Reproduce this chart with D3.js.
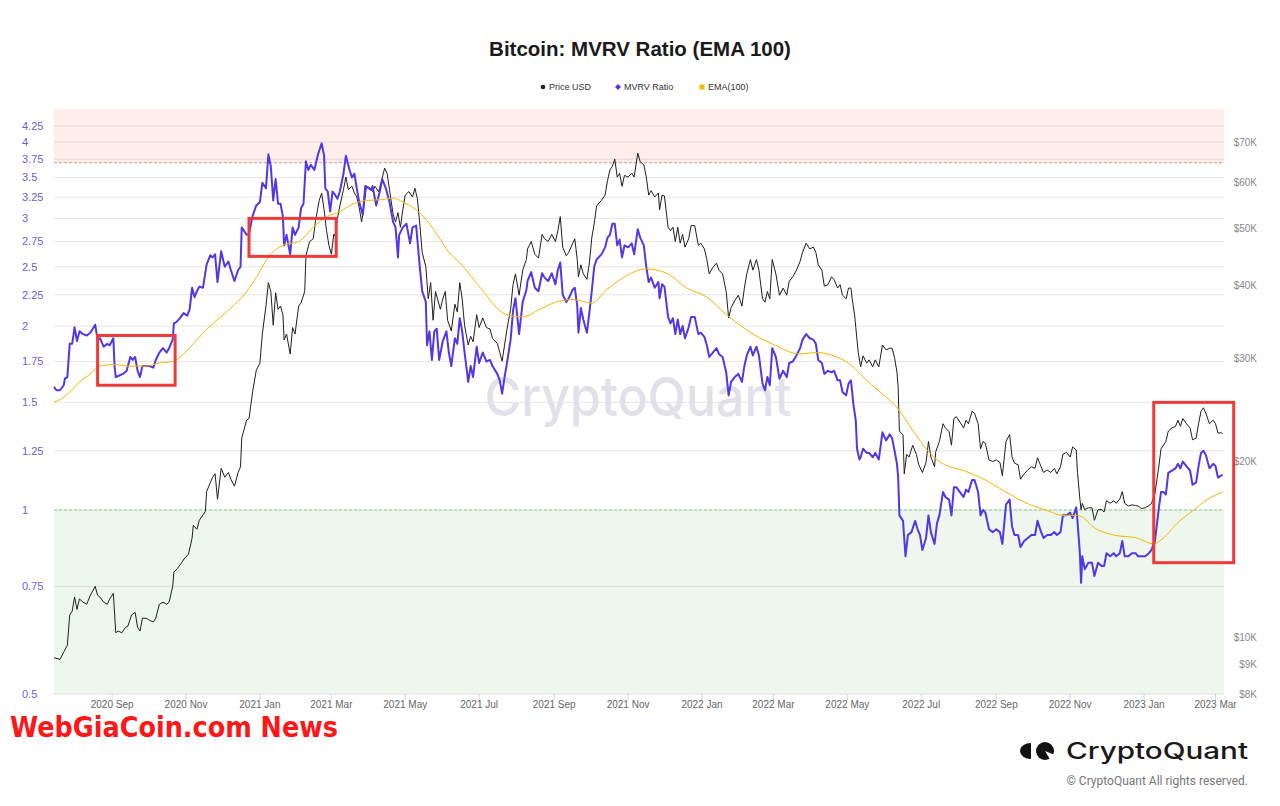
<!DOCTYPE html>
<html>
<head>
<meta charset="utf-8">
<script src="https://cdn.jsdelivr.net/npm/d3@7"></script>
<style>
  body { margin: 0; background: #fff; }
  svg { display: block; }
</style>
</head>
<body>
<div id="chart"></div>
<script>
// ---- data ----
var priceUSD = [
  ["2020-07-15",9225],["2020-07-20",9170],["2020-07-23",9430],["2020-07-26",9690],["2020-07-28",10920],["2020-07-30",11080],
  ["2020-08-01",11720],["2020-08-03",11160],["2020-08-05",11630],["2020-08-08",11480],["2020-08-11",11390],["2020-08-14",11800],
  ["2020-08-18",12220],["2020-08-20",11800],["2020-08-22",11710],["2020-08-25",11480],["2020-08-28",11390],["2020-08-30",11630],
  ["2020-09-02",11890],["2020-09-04",10180],["2020-09-06",10250],["2020-09-09",10180],["2020-09-12",10400],["2020-09-14",10450],
  ["2020-09-17",10920],["2020-09-20",11030],["2020-09-22",10400],["2020-09-24",10250],["2020-09-26",10780],["2020-09-29",10780],
  ["2020-10-02",10690],["2020-10-05",10620],["2020-10-07",10780],["2020-10-10",11390],["2020-10-13",11480],["2020-10-16",11390],
  ["2020-10-18",11480],["2020-10-21",12220],["2020-10-22",12930],["2020-10-25",13120],["2020-10-28",13380],["2020-10-31",13670],
  ["2020-11-03",13860],["2020-11-06",14770],["2020-11-07",15540],["2020-11-10",15300],["2020-11-12",15850],["2020-11-15",16190],
  ["2020-11-17",16420],["2020-11-18",17740],["2020-11-21",18370],["2020-11-23",18780],["2020-11-25",19030],["2020-11-27",17220],
  ["2020-11-30",19450],["2020-12-03",18780],["2020-12-06",19130],["2020-12-08",18630],["2020-12-11",18130],["2020-12-14",19130],
  ["2020-12-16",19570],["2020-12-17",21900],["2020-12-21",23510],["2020-12-23",23660],["2020-12-26",26300],["2020-12-29",28600],
  ["2021-01-01",29420],["2021-01-03",32990],["2021-01-06",36840],["2021-01-08",40390],["2021-01-10",39000],["2021-01-12",34160],
  ["2021-01-14",38800],["2021-01-16",36370],["2021-01-18",36840],["2021-01-20",35590],["2021-01-21",32230],["2021-01-23",32990],
  ["2021-01-26",30500],["2021-01-28",33850],["2021-01-30",32990],["2021-02-02",36840],["2021-02-04",37300],["2021-02-07",39000],
  ["2021-02-08",44890],["2021-02-11",47480],["2021-02-14",48000],["2021-02-16",51670],["2021-02-19",55840],["2021-02-21",57440],
  ["2021-02-23",53820],["2021-02-25",49560],["2021-02-27",46760],["2021-03-01",45160],["2021-03-03",48880],["2021-03-04",48500],
  ["2021-03-06",51950],["2021-03-08",54620],["2021-03-11",58260],["2021-03-13",61200],["2021-03-15",58260],["2021-03-18",59000],
  ["2021-03-20",57500],["2021-03-22",56570],["2021-03-24",54240],["2021-03-26",51300],["2021-03-28",54620],["2021-03-30",59000],
  ["2021-04-02",58600],["2021-04-04",57790],["2021-04-06",59000],["2021-04-09",57790],["2021-04-11",59840],["2021-04-14",63400],
  ["2021-04-16",62100],["2021-04-18",58260],["2021-04-21",52800],["2021-04-23",51300],["2021-04-25",53200],["2021-04-27",50230],
  ["2021-04-29",53820],["2021-05-01",57000],["2021-05-04",57790],["2021-05-07",56570],["2021-05-09",58560],["2021-05-11",56230],
  ["2021-05-13",50900],["2021-05-15",45500],["2021-05-18",43000],["2021-05-20",37900],["2021-05-22",40390],["2021-05-24",34830],
  ["2021-05-26",39000],["2021-05-30",36370],["2021-06-01",37900],["2021-06-03",39000],["2021-06-05",34830],["2021-06-08",33400],
  ["2021-06-11",37100],["2021-06-13",36000],["2021-06-15",40390],["2021-06-17",37900],["2021-06-19",34100],["2021-06-22",31600],
  ["2021-06-24",32700],["2021-06-26",31990],["2021-06-29",35590],["2021-07-01",33850],["2021-07-04",35150],["2021-07-07",33850],
  ["2021-07-10",33640],["2021-07-12",32460],["2021-07-16",31800],["2021-07-18",30710],["2021-07-20",29650],["2021-07-22",31600],
  ["2021-07-24",33640],["2021-07-27",36370],["2021-07-29",40080],["2021-07-31",41810],["2021-08-03",38440],["2021-08-06",42420],
  ["2021-08-09",44240],["2021-08-10",46130],["2021-08-13",47480],["2021-08-16",45160],["2021-08-19",44500],["2021-08-22",48830],
  ["2021-08-24",48000],["2021-08-27",47480],["2021-08-30",48830],["2021-09-02",47480],["2021-09-04",49560],["2021-09-06",52380],
  ["2021-09-08",46450],["2021-09-11",44890],["2021-09-13",45500],["2021-09-16",47000],["2021-09-18",48000],["2021-09-20",44240],
  ["2021-09-21",41330],["2021-09-23",43330],["2021-09-25",41810],["2021-09-28",40910],["2021-09-30",43600],["2021-10-02",48150],
  ["2021-10-04",50900],["2021-10-06",54620],["2021-10-10",55840],["2021-10-13",57000],["2021-10-15",60350],["2021-10-17",62950],
  ["2021-10-19",63840],["2021-10-21",65680],["2021-10-23",61200],["2021-10-25",62100],["2021-10-27",59000],["2021-10-29",61600],
  ["2021-11-01",61200],["2021-11-04",62100],["2021-11-06",61200],["2021-11-09",67250],["2021-11-11",65000],["2021-11-14",64200],
  ["2021-11-16",61200],["2021-11-18",57000],["2021-11-20",58000],["2021-11-23",56570],["2021-11-26",57500],["2021-11-27",53820],
  ["2021-11-29",57000],["2021-12-01",56800],["2021-12-04",50230],["2021-12-06",49560],["2021-12-08",50230],["2021-12-10",47480],
  ["2021-12-12",50230],["2021-12-14",47180],["2021-12-16",48830],["2021-12-18",46450],["2021-12-21",48000],["2021-12-23",50550],
  ["2021-12-26",50550],["2021-12-29",46760],["2021-12-31",47180],["2022-01-03",46130],["2022-01-05",44240],["2022-01-07",41810],
  ["2022-01-10",42900],["2022-01-13",43600],["2022-01-15",42420],["2022-01-18",41810],["2022-01-21",39000],["2022-01-23",35150],
  ["2022-01-25",36590],["2022-01-28",37590],["2022-01-31",38440],["2022-02-03",36840],["2022-02-05",39530],["2022-02-07",41810],
  ["2022-02-10",44240],["2022-02-12",42420],["2022-02-15",44240],["2022-02-17",42420],["2022-02-20",37900],["2022-02-22",37400],
  ["2022-02-24",39000],["2022-02-26",37900],["2022-02-28",44240],["2022-03-03",41810],["2022-03-06",38440],["2022-03-09",39530],
  ["2022-03-12",38440],["2022-03-14",40600],["2022-03-17",41330],["2022-03-20",42420],["2022-03-23",43920],["2022-03-25",45500],
  ["2022-03-28",47180],["2022-03-31",46130],["2022-04-03",46450],["2022-04-05",45500],["2022-04-07",43330],["2022-04-10",42420],
  ["2022-04-12",39840],["2022-04-15",40080],["2022-04-18",41330],["2022-04-20",40900],["2022-04-23",39530],["2022-04-25",40080],
  ["2022-04-27",38440],["2022-04-30",37900],["2022-05-02",39530],["2022-05-04",39530],["2022-05-05",37900],["2022-05-07",35590],
  ["2022-05-08",33850],["2022-05-10",30700],["2022-05-12",29000],["2022-05-14",30280],["2022-05-17",29420],["2022-05-19",29800],
  ["2022-05-22",29000],["2022-05-24",29800],["2022-05-27",29000],["2022-05-30",31600],["2022-06-02",31000],["2022-06-05",31200],
  ["2022-06-07",31200],["2022-06-09",30060],["2022-06-11",28400],["2022-06-12",26670],["2022-06-13",22500],["2022-06-16",22200],
  ["2022-06-17",19030],["2022-06-19",20550],["2022-06-21",20330],["2022-06-24",21300],["2022-06-27",20550],["2022-06-29",19720],
  ["2022-07-02",19130],["2022-07-05",19900],["2022-07-07",21610],["2022-07-09",20330],["2022-07-12",19570],["2022-07-13",20760],
  ["2022-07-16",21610],["2022-07-19",23180],["2022-07-21",22800],["2022-07-24",22470],["2022-07-26",21300],["2022-07-28",23660],
  ["2022-07-30",23840],["2022-08-02",23330],["2022-08-05",22800],["2022-08-07",23500],["2022-08-09",23180],["2022-08-12",24330],
  ["2022-08-14",24160],["2022-08-17",23180],["2022-08-19",21000],["2022-08-21",21610],["2022-08-23",21450],["2022-08-26",20100],
  ["2022-08-29",19980],["2022-09-01",20100],["2022-09-04",19900],["2022-09-06",18890],["2022-09-09",21610],["2022-09-12",22200],
  ["2022-09-14",20330],["2022-09-16",19850],["2022-09-19",19720],["2022-09-21",18630],["2022-09-24",19030],["2022-09-27",19320],
  ["2022-09-30",19570],["2022-10-03",19450],["2022-10-05",20270],["2022-10-08",19570],["2022-10-10",19130],["2022-10-13",19320],
  ["2022-10-16",19130],["2022-10-19",19450],["2022-10-21",19030],["2022-10-24",19570],["2022-10-26",20560],["2022-10-29",20700],
  ["2022-11-01",20330],["2022-11-03",21160],["2022-11-06",20900],["2022-11-07",19150],["2022-11-09",17240],["2022-11-10",16530],
  ["2022-11-11",16940],["2022-11-13",16530],["2022-11-16",16650],["2022-11-19",16650],["2022-11-21",15850],["2022-11-24",16530],
  ["2022-11-27",16530],["2022-11-29",16380],["2022-12-01",17120],["2022-12-04",16950],["2022-12-07",17120],["2022-12-09",16950],
  ["2022-12-12",17240],["2022-12-14",17740],["2022-12-16",16950],["2022-12-19",16770],["2022-12-22",16840],["2022-12-25",16800],
  ["2022-12-27",16770],["2022-12-30",16600],["2023-01-02",16650],["2023-01-05",16800],["2023-01-07",16920],["2023-01-10",17620],
  ["2023-01-13",19460],["2023-01-15",21000],["2023-01-17",21300],["2023-01-19",21610],["2023-01-21",22520],["2023-01-24",22800],
  ["2023-01-27",22950],["2023-01-29",23500],["2023-01-31",22950],["2023-02-02",23660],["2023-02-05",23180],["2023-02-08",22800],
  ["2023-02-10",21760],["2023-02-13",21900],["2023-02-15",23180],["2023-02-17",24330],["2023-02-19",24680],["2023-02-21",24160],
  ["2023-02-24",23180],["2023-02-27",23500],["2023-03-01",23180],["2023-03-03",22360],["2023-03-06",22360],["2023-03-07",22280]
];

var mvrvRatio = [
  ["2020-07-15",1.59],["2020-07-17",1.57],["2020-07-20",1.57],["2020-07-23",1.60],["2020-07-24",1.64],["2020-07-26",1.65],
  ["2020-07-28",1.87],["2020-07-30",1.87],["2020-08-01",1.99],["2020-08-03",1.89],["2020-08-05",1.96],["2020-08-08",1.94],
  ["2020-08-11",1.93],["2020-08-14",1.95],["2020-08-18",2.01],["2020-08-20",1.90],["2020-08-22",1.91],["2020-08-25",1.85],
  ["2020-08-28",1.87],["2020-08-30",1.86],["2020-09-02",1.91],["2020-09-03",1.72],["2020-09-04",1.65],["2020-09-07",1.66],
  ["2020-09-10",1.67],["2020-09-13",1.69],["2020-09-16",1.78],["2020-09-18",1.76],["2020-09-20",1.78],["2020-09-22",1.69],
  ["2020-09-24",1.65],["2020-09-26",1.72],["2020-09-29",1.72],["2020-10-02",1.72],["2020-10-05",1.71],["2020-10-07",1.76],
  ["2020-10-10",1.81],["2020-10-13",1.84],["2020-10-16",1.81],["2020-10-18",1.84],["2020-10-21",1.90],["2020-10-22",2.02],
  ["2020-10-24",2.03],["2020-10-27",2.06],["2020-10-30",2.10],["2020-11-02",2.08],["2020-11-04",2.13],["2020-11-06",2.31],
  ["2020-11-08",2.23],["2020-11-10",2.28],["2020-11-12",2.32],["2020-11-15",2.31],["2020-11-18",2.52],["2020-11-21",2.61],
  ["2020-11-23",2.59],["2020-11-25",2.62],["2020-11-27",2.36],["2020-11-30",2.65],["2020-12-03",2.50],["2020-12-06",2.55],
  ["2020-12-08",2.47],["2020-12-11",2.37],["2020-12-14",2.47],["2020-12-16",2.50],["2020-12-17",2.90],["2020-12-21",2.82],
  ["2020-12-23",2.83],["2020-12-26",3.03],["2020-12-29",3.15],["2021-01-01",3.19],["2021-01-03",3.43],["2021-01-06",3.36],
  ["2021-01-08",3.82],["2021-01-10",3.65],["2021-01-12",3.21],["2021-01-14",3.48],["2021-01-16",3.17],["2021-01-18",3.17],
  ["2021-01-20",3.02],["2021-01-21",2.71],["2021-01-23",2.82],["2021-01-26",2.62],["2021-01-28",2.90],["2021-01-30",2.82],
  ["2021-02-02",2.90],["2021-02-04",3.12],["2021-02-06",3.17],["2021-02-08",3.72],["2021-02-10",3.60],["2021-02-12",3.67],
  ["2021-02-15",3.60],["2021-02-18",3.82],["2021-02-21",3.98],["2021-02-23",3.80],["2021-02-24",3.36],["2021-02-26",3.32],
  ["2021-02-28",3.08],["2021-03-02",3.32],["2021-03-04",3.28],["2021-03-06",3.23],["2021-03-08",3.32],["2021-03-11",3.55],
  ["2021-03-13",3.80],["2021-03-16",3.60],["2021-03-18",3.50],["2021-03-20",3.55],["2021-03-22",3.36],["2021-03-24",3.19],
  ["2021-03-27",3.04],["2021-03-29",3.39],["2021-04-01",3.36],["2021-04-03",3.34],["2021-04-04",3.39],["2021-04-07",3.15],
  ["2021-04-10",3.32],["2021-04-12",3.48],["2021-04-15",3.36],["2021-04-18",3.19],["2021-04-21",2.96],["2021-04-23",2.90],
  ["2021-04-25",2.59],["2021-04-26",2.82],["2021-04-29",2.90],["2021-05-02",2.94],["2021-05-05",2.73],["2021-05-07",2.90],
  ["2021-05-10",2.92],["2021-05-13",2.50],["2021-05-15",2.28],["2021-05-18",2.19],["2021-05-19",1.86],["2021-05-21",1.96],
  ["2021-05-23",1.76],["2021-05-25",1.96],["2021-05-27",1.98],["2021-05-29",1.76],["2021-06-01",1.89],["2021-06-04",1.96],
  ["2021-06-06",1.81],["2021-06-08",1.72],["2021-06-11",1.91],["2021-06-13",1.87],["2021-06-15",2.06],["2021-06-17",1.96],
  ["2021-06-19",1.81],["2021-06-22",1.62],["2021-06-24",1.72],["2021-06-26",1.65],["2021-06-29",1.85],["2021-07-01",1.74],
  ["2021-07-04",1.81],["2021-07-07",1.75],["2021-07-10",1.76],["2021-07-12",1.72],["2021-07-16",1.67],["2021-07-18",1.63],
  ["2021-07-20",1.55],["2021-07-22",1.65],["2021-07-24",1.74],["2021-07-27",1.90],["2021-07-29",2.12],["2021-07-31",2.22],
  ["2021-08-03",1.94],["2021-08-06",2.19],["2021-08-09",2.29],["2021-08-10",2.37],["2021-08-13",2.45],["2021-08-16",2.31],
  ["2021-08-19",2.28],["2021-08-22",2.44],["2021-08-24",2.40],["2021-08-27",2.37],["2021-08-30",2.44],["2021-09-02",2.34],
  ["2021-09-04",2.47],["2021-09-06",2.54],["2021-09-08",2.25],["2021-09-11",2.19],["2021-09-13",2.22],["2021-09-16",2.29],
  ["2021-09-18",2.31],["2021-09-20",2.16],["2021-09-21",1.95],["2021-09-23",2.14],["2021-09-25",2.05],["2021-09-28",1.95],
  ["2021-09-30",2.10],["2021-10-02",2.28],["2021-10-04",2.50],["2021-10-06",2.57],["2021-10-10",2.62],["2021-10-13",2.69],
  ["2021-10-15",2.79],["2021-10-17",2.82],["2021-10-19",2.94],["2021-10-21",2.94],["2021-10-23",2.71],["2021-10-25",2.77],
  ["2021-10-27",2.59],["2021-10-29",2.71],["2021-11-01",2.69],["2021-11-04",2.73],["2021-11-06",2.62],["2021-11-09",2.88],
  ["2021-11-11",2.79],["2021-11-14",2.71],["2021-11-16",2.50],["2021-11-18",2.36],["2021-11-20",2.40],["2021-11-23",2.31],
  ["2021-11-26",2.36],["2021-11-27",2.22],["2021-11-29",2.34],["2021-12-01",2.32],["2021-12-04",2.07],["2021-12-06",2.02],
  ["2021-12-08",2.06],["2021-12-10",1.94],["2021-12-12",2.05],["2021-12-14",1.94],["2021-12-16",2.00],["2021-12-18",1.91],
  ["2021-12-21",1.99],["2021-12-23",2.07],["2021-12-26",2.07],["2021-12-29",1.94],["2021-12-31",1.95],["2022-01-03",1.92],
  ["2022-01-05",1.86],["2022-01-07",1.78],["2022-01-10",1.81],["2022-01-13",1.84],["2022-01-15",1.80],["2022-01-18",1.78],
  ["2022-01-21",1.68],["2022-01-23",1.54],["2022-01-25",1.62],["2022-01-28",1.65],["2022-01-31",1.67],["2022-02-03",1.62],
  ["2022-02-05",1.72],["2022-02-07",1.79],["2022-02-10",1.85],["2022-02-12",1.79],["2022-02-15",1.85],["2022-02-17",1.79],
  ["2022-02-20",1.61],["2022-02-22",1.57],["2022-02-24",1.65],["2022-02-26",1.60],["2022-02-28",1.84],["2022-03-03",1.78],
  ["2022-03-06",1.64],["2022-03-09",1.69],["2022-03-12",1.65],["2022-03-14",1.74],["2022-03-17",1.75],["2022-03-20",1.79],
  ["2022-03-23",1.84],["2022-03-25",1.90],["2022-03-28",1.94],["2022-03-31",1.91],["2022-04-03",1.90],["2022-04-05",1.87],
  ["2022-04-07",1.76],["2022-04-10",1.74],["2022-04-12",1.67],["2022-04-15",1.69],["2022-04-18",1.68],["2022-04-20",1.69],
  ["2022-04-23",1.63],["2022-04-25",1.63],["2022-04-27",1.56],["2022-04-30",1.54],["2022-05-02",1.61],["2022-05-04",1.63],
  ["2022-05-05",1.56],["2022-05-06",1.49],["2022-05-08",1.40],["2022-05-09",1.26],["2022-05-11",1.21],["2022-05-12",1.22],
  ["2022-05-14",1.26],["2022-05-17",1.24],["2022-05-19",1.24],["2022-05-22",1.22],["2022-05-24",1.24],["2022-05-27",1.21],
  ["2022-05-30",1.34],["2022-06-02",1.30],["2022-06-05",1.33],["2022-06-07",1.31],["2022-06-09",1.25],["2022-06-11",1.19],
  ["2022-06-12",1.13],["2022-06-13",0.98],["2022-06-16",0.96],["2022-06-18",0.84],["2022-06-20",0.91],["2022-06-23",0.92],
  ["2022-06-26",0.96],["2022-06-28",0.93],["2022-06-30",0.91],["2022-07-02",0.86],["2022-07-05",0.90],["2022-07-07",0.98],
  ["2022-07-09",0.92],["2022-07-12",0.88],["2022-07-14",0.95],["2022-07-16",0.98],["2022-07-19",1.07],["2022-07-21",1.05],
  ["2022-07-24",1.04],["2022-07-26",0.98],["2022-07-28",1.09],["2022-07-30",1.09],["2022-08-02",1.07],["2022-08-05",1.05],
  ["2022-08-07",1.08],["2022-08-09",1.07],["2022-08-12",1.12],["2022-08-14",1.12],["2022-08-17",1.07],["2022-08-19",0.98],
  ["2022-08-21",1.00],["2022-08-23",0.99],["2022-08-26",0.93],["2022-08-29",0.92],["2022-09-01",0.93],["2022-09-04",0.92],
  ["2022-09-06",0.88],["2022-09-09",1.02],["2022-09-12",1.04],["2022-09-14",0.94],["2022-09-16",0.91],["2022-09-19",0.91],
  ["2022-09-21",0.87],["2022-09-24",0.89],["2022-09-27",0.90],["2022-09-30",0.91],["2022-10-03",0.91],["2022-10-05",0.96],
  ["2022-10-08",0.92],["2022-10-10",0.90],["2022-10-13",0.91],["2022-10-16",0.91],["2022-10-19",0.92],["2022-10-21",0.91],
  ["2022-10-24",0.92],["2022-10-26",0.98],["2022-10-29",0.98],["2022-11-01",0.99],["2022-11-03",0.97],["2022-11-06",1.01],
  ["2022-11-07",0.96],["2022-11-09",0.85],["2022-11-10",0.76],["2022-11-11",0.84],["2022-11-13",0.80],["2022-11-16",0.82],
  ["2022-11-19",0.82],["2022-11-21",0.78],["2022-11-24",0.82],["2022-11-27",0.81],["2022-11-29",0.81],["2022-12-01",0.85],
  ["2022-12-04",0.84],["2022-12-07",0.85],["2022-12-09",0.84],["2022-12-12",0.85],["2022-12-14",0.89],["2022-12-16",0.84],
  ["2022-12-19",0.84],["2022-12-22",0.85],["2022-12-25",0.85],["2022-12-27",0.84],["2022-12-30",0.84],["2023-01-02",0.84],
  ["2023-01-05",0.85],["2023-01-07",0.86],["2023-01-10",0.89],["2023-01-13",1.00],["2023-01-15",1.07],["2023-01-17",1.07],
  ["2023-01-19",1.06],["2023-01-21",1.15],["2023-01-24",1.16],["2023-01-27",1.17],["2023-01-29",1.19],["2023-01-31",1.17],
  ["2023-02-02",1.20],["2023-02-05",1.18],["2023-02-08",1.16],["2023-02-10",1.10],["2023-02-13",1.11],["2023-02-15",1.18],
  ["2023-02-17",1.24],["2023-02-19",1.25],["2023-02-21",1.23],["2023-02-24",1.17],["2023-02-27",1.19],["2023-03-01",1.18],
  ["2023-03-03",1.13],["2023-03-06",1.14],["2023-03-07",1.14]
];

var ema100 = [
  ["2020-07-15",1.50],["2020-07-23",1.53],["2020-07-28",1.56],["2020-08-05",1.62],["2020-08-14",1.67],["2020-08-22",1.72],
  ["2020-09-02",1.73],["2020-09-16",1.72],["2020-09-29",1.72],["2020-10-10",1.74],["2020-10-21",1.75],["2020-10-30",1.80],
  ["2020-11-10",1.90],["2020-11-21",2.00],["2020-12-08",2.14],["2020-12-19",2.25],["2020-12-29",2.40],["2021-01-09",2.61],
  ["2021-01-20",2.71],["2021-02-02",2.75],["2021-02-14",2.90],["2021-02-25",3.02],["2021-03-07",3.07],["2021-03-19",3.17],
  ["2021-03-30",3.21],["2021-04-12",3.22],["2021-04-21",3.24],["2021-04-29",3.19],["2021-05-10",3.10],["2021-05-21",2.94],
  ["2021-05-29",2.79],["2021-06-06",2.64],["2021-06-15",2.54],["2021-07-02",2.31],["2021-07-23",2.09],["2021-08-06",2.07],
  ["2021-08-20",2.13],["2021-09-03",2.19],["2021-09-17",2.21],["2021-10-02",2.18],["2021-10-14",2.29],["2021-10-28",2.40],
  ["2021-11-16",2.48],["2021-12-03",2.44],["2021-12-19",2.31],["2022-01-05",2.23],["2022-01-21",2.09],["2022-02-07",1.97],
  ["2022-02-28",1.87],["2022-03-23",1.80],["2022-04-05",1.81],["2022-04-25",1.77],["2022-05-05",1.72],["2022-05-14",1.65],
  ["2022-05-28",1.56],["2022-06-10",1.48],["2022-06-24",1.35],["2022-07-08",1.24],["2022-07-19",1.19],["2022-08-05",1.16],
  ["2022-08-19",1.13],["2022-09-09",1.07],["2022-09-29",1.02],["2022-10-12",1.00],["2022-10-26",0.98],["2022-11-07",0.98],
  ["2022-11-23",0.93],["2022-12-07",0.91],["2022-12-26",0.90],["2023-01-09",0.88],["2023-01-17",0.90],["2023-01-28",0.95],
  ["2023-02-11",1.00],["2023-02-22",1.04],["2023-03-07",1.07]
];

var mvrvTicks = [0.5, 0.75, 1, 1.25, 1.5, 1.75, 2, 2.25, 2.5, 2.75, 3, 3.25, 3.5, 3.75, 4, 4.25];
var priceTicks = [8000, 9000, 10000, 20000, 30000, 40000, 50000, 60000, 70000];
var legendLabels = ["Price USD", "MVRV Ratio", "EMA(100)"];
var overvaluedLevel = 3.7, undervaluedLevel = 1;
var highlights = [
  { from: "2020-08-20", to: "2020-10-23", low: 1.60, high: 1.93 },
  { from: "2020-12-23", to: "2021-03-05", low: 2.60, high: 3.00 },
  { from: "2023-01-09", to: "2023-03-16", low: 0.82, high: 1.50 }
];

// ---- chart ----
var width = 1280,
    height = 806,
    margin = {top: 109, right: 56, bottom: 112, left: 54};
var plotRight = width - margin.right,
    plotBottom = height - margin.bottom;

var parse = d3.timeParse("%Y-%m-%d");
var toPoints = function(arr) {
  return arr.map(function(d) { return {date: parse(d[0]), value: d[1]}; });
};
var price = toPoints(priceUSD),
    mvrv = toPoints(mvrvRatio),
    ema = toPoints(ema100);

var x = d3.scaleTime()
  .domain([parse("2020-07-15"), parse("2023-03-08")])
  .range([margin.left, plotRight]);

var yRatio = d3.scaleLog()
  .domain([0.5, 4.53])
  .range([plotBottom, margin.top]);

var yPrice = d3.scaleLog()
  .domain([8000, 80000])
  .range([plotBottom, margin.top]);

var font = "'Liberation Sans', Arial, sans-serif";

var svg = d3.select("#chart").append("svg")
  .attr("width", width)
  .attr("height", height)
  .style("font-family", font);

svg.append("rect").attr("width", width).attr("height", height).attr("fill", "#fff");

// title
svg.append("text")
  .attr("x", 640).attr("y", 56)
  .attr("text-anchor", "middle")
  .style("font-size", "20.5px")
  .style("font-weight", "bold")
  .style("fill", "#1a1a1a")
  .text("Bitcoin: MVRV Ratio (EMA 100)");

// legend
var legendColors = ["#1e1e1e", "#5038e6", "#fbb400"];
var legendX = [543, 618, 702];
var legend = svg.append("g").style("font-size", "9px").style("fill", "#333");
legendLabels.forEach(function(label, i) {
  var cx = legendX[i], cy = 87;
  if (i === 0) {
    legend.append("circle").attr("cx", cx).attr("cy", cy).attr("r", 2.3).attr("fill", legendColors[i]);
  } else if (i === 1) {
    legend.append("path").attr("d", d3.symbol().type(d3.symbolDiamond2).size(22)).attr("transform", "translate(" + cx + "," + cy + ")").attr("fill", legendColors[i]);
  } else {
    legend.append("rect").attr("x", cx - 2.5).attr("y", cy - 2.5).attr("width", 5).attr("height", 5).attr("fill", legendColors[i]);
  }
  legend.append("text").attr("x", cx + 6).attr("y", cy + 3.2).text(label);
});

// gridlines (left axis)
svg.append("g").selectAll("line")
  .data(mvrvTicks)
  .enter().append("line")
  .attr("x1", margin.left).attr("x2", plotRight)
  .attr("y1", function(d) { return yRatio(d); })
  .attr("y2", function(d) { return yRatio(d); })
  .attr("stroke", "#e6e6e6")
  .attr("stroke-width", 1);

// zones
var yTop = yRatio(yRatio.domain()[1]);
svg.append("rect")
  .attr("x", margin.left).attr("width", plotRight - margin.left)
  .attr("y", yTop).attr("height", yRatio(overvaluedLevel) - yTop)
  .attr("fill", "rgb(240,80,60)").attr("fill-opacity", 0.1);
svg.append("rect")
  .attr("x", margin.left).attr("width", plotRight - margin.left)
  .attr("y", yRatio(undervaluedLevel)).attr("height", yRatio(0.5) - yRatio(undervaluedLevel))
  .attr("fill", "rgb(76,175,80)").attr("fill-opacity", 0.1);
svg.append("line")
  .attr("x1", margin.left).attr("x2", plotRight)
  .attr("y1", yRatio(overvaluedLevel)).attr("y2", yRatio(overvaluedLevel))
  .attr("stroke", "#f28b82").attr("stroke-dasharray", "3,2");
svg.append("line")
  .attr("x1", margin.left).attr("x2", plotRight)
  .attr("y1", yRatio(undervaluedLevel)).attr("y2", yRatio(undervaluedLevel))
  .attr("stroke", "#8dd08d").attr("stroke-dasharray", "3,2");

// watermark
svg.append("text")
  .attr("x", 638).attr("y", 416)
  .attr("text-anchor", "middle")
  .attr("textLength", 307)
  .attr("lengthAdjust", "spacingAndGlyphs")
  .style("font-family", "Inter, 'Open Sans', sans-serif")
  .style("font-weight", 500)
  .style("font-size", "54px")
  .style("fill", "#e1e1e9")
  .text("CryptoQuant");

// left axis labels
svg.append("g").selectAll("text")
  .data(mvrvTicks)
  .enter().append("text")
  .attr("x", 22)
  .attr("y", function(d) { return yRatio(d); })
  .attr("dy", "0.35em")
  .style("font-size", "11px")
  .style("fill", "#6a60dc")
  .text(function(d) { return String(d); });

// right axis labels
svg.append("g").selectAll("text")
  .data(priceTicks)
  .enter().append("text")
  .attr("x", 1257)
  .attr("y", function(d) { return yPrice(d); })
  .attr("dy", "0.35em")
  .attr("text-anchor", "end")
  .style("font-size", "10px")
  .style("fill", "#888")
  .text(function(d) { return "$" + (d / 1000) + "K"; });

// x axis
var xTicks = x.ticks(d3.timeMonth.every(2));
var xAxis = svg.append("g");
xAxis.selectAll("line")
  .data(xTicks)
  .enter().append("line")
  .attr("x1", function(d) { return x(d); }).attr("x2", function(d) { return x(d); })
  .attr("y1", plotBottom).attr("y2", plotBottom + 6)
  .attr("stroke", "#ccd6eb");
xAxis.selectAll("text")
  .data(xTicks)
  .enter().append("text")
  .attr("x", function(d) { return x(d); })
  .attr("y", plotBottom + 14)
  .attr("text-anchor", "middle")
  .style("font-size", "10px")
  .style("fill", "#666")
  .text(d3.timeFormat("%Y %b"));

// series
var priceLine = d3.line().x(function(d) { return x(d.date); }).y(function(d) { return yPrice(d.value); });
var ratioLine = d3.line().x(function(d) { return x(d.date); }).y(function(d) { return yRatio(d.value); });
var emaLine = d3.line().curve(d3.curveMonotoneX).x(function(d) { return x(d.date); }).y(function(d) { return yRatio(d.value); });

svg.append("path").datum(price).attr("d", priceLine)
  .attr("fill", "none").attr("stroke", "#1e1e1e").attr("stroke-width", 1).attr("stroke-linejoin", "round");
svg.append("path").datum(mvrv).attr("d", ratioLine)
  .attr("fill", "none").attr("stroke", "#5038e6").attr("stroke-width", 2).attr("stroke-linejoin", "round");
svg.append("path").datum(ema).attr("d", emaLine)
  .attr("fill", "none").attr("stroke", "#fbb400").attr("stroke-width", 1);

// highlight boxes
svg.append("g").selectAll("rect")
  .data(highlights)
  .enter().append("rect")
  .attr("x", function(d) { return x(parse(d.from)); })
  .attr("y", function(d) { return yRatio(d.high); })
  .attr("width", function(d) { return x(parse(d.to)) - x(parse(d.from)); })
  .attr("height", function(d) { return yRatio(d.low) - yRatio(d.high); })
  .attr("fill", "none")
  .attr("stroke", "#f03a3a")
  .attr("stroke-width", 3);

// footer: site tag
svg.append("text")
  .attr("x", 10).attr("y", 737)
  .attr("textLength", 328)
  .attr("lengthAdjust", "spacingAndGlyphs")
  .style("font-family", "'DejaVu Sans', sans-serif")
  .style("font-weight", "bold")
  .style("font-size", "29px")
  .style("fill", "#ff1616")
  .text("WebGiaCoin.com News");

// footer: logo
var logo = svg.append("g").attr("fill", "#111");
logo.append("path").attr("d", "M1031,743 L1031,759 A11,8 0 0 1 1031,743 Z");
logo.append("circle").attr("cx", 1045).attr("cy", 751).attr("r", 9);
logo.append("path").attr("d", "M1045,751 L1055,755 L1051,761 Z").attr("fill", "#fff");
svg.append("text")
  .attr("x", 1066).attr("y", 759)
  .attr("textLength", 182)
  .attr("lengthAdjust", "spacingAndGlyphs")
  .style("font-family", "Inter, Roboto, sans-serif")
  .style("font-weight", 500)
  .style("font-size", "23px")
  .style("fill", "#1a1a1a")
  .text("CryptoQuant");
svg.append("text")
  .attr("x", 1248).attr("y", 785)
  .attr("text-anchor", "end")
  .style("font-family", "Roboto, sans-serif")
  .style("font-size", "12px")
  .style("fill", "#777")
  .text("\u00a9 CryptoQuant All rights reserved.");
</script>
</body>
</html>
